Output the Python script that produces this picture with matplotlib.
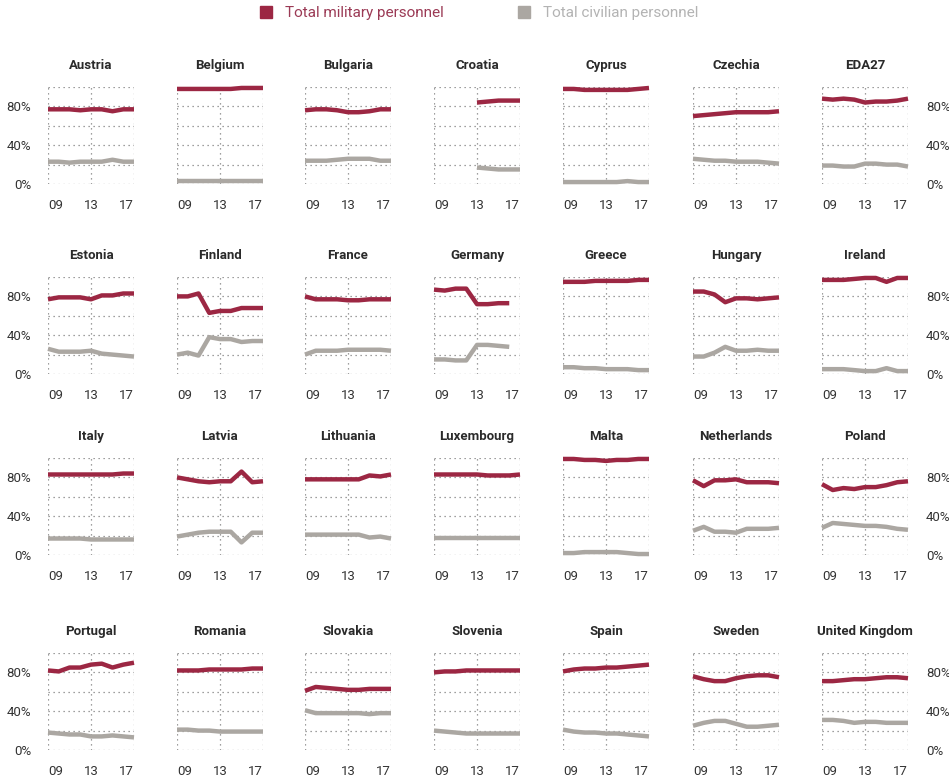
import numpy as np
import matplotlib
matplotlib.use("Agg")
import matplotlib.pyplot as plt
from matplotlib.lines import Line2D

plt.rcParams['font.family'] = ['Roboto', 'DejaVu Sans']

years = [2009, 2010, 2011, 2012, 2013, 2014, 2015, 2016, 2017]

countries = ["Austria", "Belgium", "Bulgaria", "Croatia", "Cyprus", "Czechia", "EDA27",
             "Estonia", "Finland", "France", "Germany", "Greece", "Hungary", "Ireland",
             "Italy", "Latvia", "Lithuania", "Luxembourg", "Malta", "Netherlands", "Poland",
             "Portugal", "Romania", "Slovakia", "Slovenia", "Spain", "Sweden", "United Kingdom"]

nan = None

# share of military personnel, %
military = [
    [77, 77, 77, 76, 77, 77, 75, 77, 77],            # Austria
    [98, 98, 98, 98, 98, 98, 99, 99, 99],            # Belgium
    [76, 77, 77, 76, 74, 74, 75, 77, 77],            # Bulgaria
    [nan, nan, nan, nan, 84, 85, 86, 86, 86],        # Croatia
    [98, 98, 97, 97, 97, 97, 97, 98, 99],            # Cyprus
    [70, 71, 72, 73, 74, 74, 74, 74, 75],            # Czechia
    [88, 87, 88, 87, 84, 85, 85, 86, 88],            # EDA27
    [77, 79, 79, 79, 77, 81, 81, 83, 83],            # Estonia
    [80, 80, 83, 63, 65, 65, 68, 68, 68],            # Finland
    [80, 77, 77, 77, 76, 76, 77, 77, 77],            # France
    [87, 86, 88, 88, 72, 72, 73, 73, nan],           # Germany
    [95, 95, 95, 96, 96, 96, 96, 97, 97],            # Greece
    [85, 85, 82, 74, 78, 78, 77, 78, 79],            # Hungary
    [97, 97, 97, 98, 99, 99, 95, 99, 99],            # Ireland
    [83, 83, 83, 83, 83, 83, 83, 84, 84],            # Italy
    [80, 78, 76, 75, 76, 76, 86, 75, 76],            # Latvia
    [78, 78, 78, 78, 78, 78, 82, 81, 83],            # Lithuania
    [83, 83, 83, 83, 83, 82, 82, 82, 83],            # Luxembourg
    [99, 99, 98, 98, 97, 98, 98, 99, 99],            # Malta
    [77, 71, 77, 77, 78, 75, 75, 75, 74],            # Netherlands
    [73, 67, 69, 68, 70, 70, 72, 75, 76],            # Poland
    [82, 81, 85, 85, 88, 89, 85, 88, 90],            # Portugal
    [82, 82, 82, 83, 83, 83, 83, 84, 84],            # Romania
    [61, 65, 64, 63, 62, 62, 63, 63, 63],            # Slovakia
    [80, 81, 81, 82, 82, 82, 82, 82, 82],            # Slovenia
    [81, 83, 84, 84, 85, 85, 86, 87, 88],            # Spain
    [76, 73, 71, 71, 74, 76, 77, 77, 75],            # Sweden
    [71, 71, 72, 73, 73, 74, 75, 75, 74],            # United Kingdom
]

# share of civilian personnel, %
civilian = [
    [23, 23, 22, 23, 23, 23, 25, 23, 23],            # Austria
    [3, 3, 3, 3, 3, 3, 3, 3, 3],                     # Belgium
    [24, 24, 24, 25, 26, 26, 26, 24, 24],            # Bulgaria
    [nan, nan, nan, nan, 17, 16, 15, 15, 15],        # Croatia
    [2, 2, 2, 2, 2, 2, 3, 2, 2],                     # Cyprus
    [26, 25, 24, 24, 23, 23, 23, 22, 21],            # Czechia
    [19, 19, 18, 18, 21, 21, 20, 20, 18],            # EDA27
    [26, 23, 23, 23, 24, 21, 20, 19, 18],            # Estonia
    [20, 22, 19, 38, 36, 36, 33, 34, 34],            # Finland
    [20, 24, 24, 24, 25, 25, 25, 25, 24],            # France
    [15, 15, 14, 14, 30, 30, 29, 28, nan],           # Germany
    [7, 7, 6, 6, 5, 5, 5, 4, 4],                     # Greece
    [18, 18, 22, 28, 24, 24, 25, 24, 24],            # Hungary
    [5, 5, 5, 4, 3, 3, 6, 3, 3],                     # Ireland
    [17, 17, 17, 17, 16, 16, 16, 16, 16],            # Italy
    [19, 21, 23, 24, 24, 24, 13, 23, 23],            # Latvia
    [21, 21, 21, 21, 21, 21, 18, 19, 17],            # Lithuania
    [18, 18, 18, 18, 18, 18, 18, 18, 18],            # Luxembourg
    [2, 2, 3, 3, 3, 3, 2, 1, 1],                     # Malta
    [25, 29, 24, 24, 23, 27, 27, 27, 28],            # Netherlands
    [28, 33, 32, 31, 30, 30, 29, 27, 26],            # Poland
    [18, 17, 16, 16, 14, 14, 15, 14, 13],            # Portugal
    [21, 21, 20, 20, 19, 19, 19, 19, 19],            # Romania
    [41, 38, 38, 38, 38, 38, 37, 38, 38],            # Slovakia
    [20, 19, 18, 17, 17, 17, 17, 17, 17],            # Slovenia
    [21, 19, 18, 18, 17, 17, 16, 15, 14],            # Spain
    [25, 28, 30, 30, 27, 24, 24, 25, 26],            # Sweden
    [31, 31, 30, 28, 29, 29, 28, 28, 28],            # United Kingdom
]

mil_color = '#9c2743'
civ_color = '#aba7a2'

FW, FH = 949, 778
fig = plt.figure(figsize=(FW / 100, FH / 100), dpi=100)

col_left = [48, 177, 305, 434, 563, 693, 822]
row_top = [87, 277, 458, 653]
aw, ah = 86, 97

for i, name in enumerate(countries):
    r, c = divmod(i, 7)
    ax = fig.add_axes([col_left[c] / FW, 1 - (row_top[r] + ah) / FH, aw / FW, ah / FH])
    mil = np.array(military[i], dtype=float)
    civ = np.array(civilian[i], dtype=float)
    ax.plot(years, civ, color=civ_color, lw=3.2, clip_on=False, solid_capstyle='butt')
    ax.plot(years, mil, color=mil_color, lw=3.2, clip_on=False, solid_capstyle='butt')

    ax.set_xlim(2009, 2017)
    ax.set_ylim(0, 100)
    for s in ax.spines.values():
        s.set_visible(False)

    ax.set_xticks([2009, 2013, 2017])
    ax.set_xticklabels(["09", "13", "17"])
    lbls = ax.get_xticklabels()
    lbls[0].set_ha('left')
    lbls[-1].set_ha('right')
    ax.set_yticks([0, 40, 80])
    ax.set_yticks([20, 60, 100], minor=True)
    ax.set_yticklabels(["0%", "40%", "80%"])
    ax.tick_params(axis='both', which='both', length=0, labelsize=9.5, colors='#333333')
    ax.tick_params(axis='x', pad=11)
    if c == 0:
        ax.tick_params(axis='y', pad=12)
    elif c == 6:
        ax.yaxis.tick_right()
        ax.tick_params(axis='y', pad=13)
    else:
        ax.tick_params(axis='y', labelleft=False)

    ax.grid(True, which='both', color='#808080', lw=0.9, linestyle=(0, (1, 3)))
    ax.set_axisbelow(True)
    ax.set_title(name, fontsize=9.5, fontweight='bold', color='#2a2a2a', pad=13)

handles = [Line2D([], [], marker='s', ls='', color=mil_color, markersize=8),
           Line2D([], [], marker='s', ls='', color=civ_color, markersize=8)]
fig.legend(handles, ["Total military personnel", "Total civilian personnel"],
           loc='center', bbox_to_anchor=(0.504, 0.983), ncol=2, frameon=False,
           fontsize=11, labelcolor=['#9b3a55', '#b3b3b3'],
           handletextpad=0.7, columnspacing=4.8, handlelength=1.0)

fig.savefig("out.png", dpi=100, facecolor='white')
